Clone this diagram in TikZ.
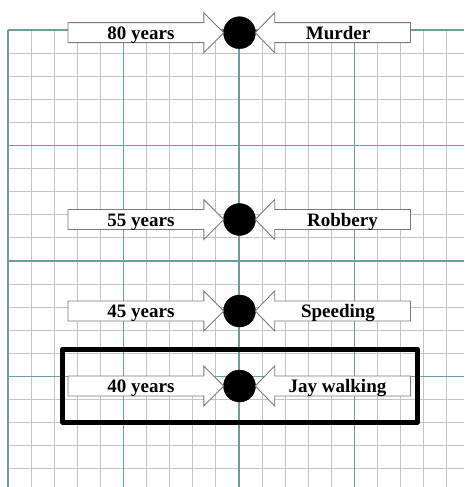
\documentclass[tikz,border=0pt]{standalone}
\usepackage{fontspec}
\setmainfont{Liberation Serif}
\usetikzlibrary{calc}
\definecolor{minorgrid}{HTML}{C4C4C4}
\definecolor{majorgrid}{HTML}{6F9C9C}
\definecolor{arrowline}{HTML}{7A7A7A}
\tikzset{
  minorline/.style={draw=minorgrid, line width=1.1pt},
  majorline/.style={draw=majorgrid, line width=1.1pt},
  dot/.style={circle, fill=black, draw=black, line width=0.4pt, minimum width=32pt, minimum height=31pt, inner sep=0pt},
  blockarrow/.style={draw=arrowline, fill=white, line width=0.9pt, line join=miter},
  label/.style={font=\fontsize{19}{22}\selectfont\bfseries, inner sep=0pt, anchor=base},
  framebox/.style={draw=black, line width=5pt, line join=round}
}
\begin{document}
\begin{tikzpicture}[x=1pt,y=-1pt]
\useasboundingbox (0,0) rectangle (464,487);
\fill[white] (0,0) rectangle (464,487);
\begin{scope}
\clip (0,0) rectangle (464,487);
% grid
\foreach \k in {0,...,19}{
  \pgfmathsetmacro{\gx}{8+23.1*\k}
  \pgfmathsetmacro{\gy}{30+23.1*\k}
  \pgfmathtruncatemacro{\m}{mod(\k,5)}
  \ifnum\m=0\relax
  \else
    \draw[minorline] (\gx,30) -- (\gx,487);
    \draw[minorline] (8,\gy) -- (464,\gy);
  \fi
}
\foreach \k in {0,5,10,15}{
  \pgfmathsetmacro{\gx}{8+23.1*\k}
  \pgfmathsetmacro{\gy}{30+23.1*\k}
  \draw[majorline] (\gx,30) -- (\gx,487);
  \draw[majorline] (8,\gy) -- (464,\gy);
}
\end{scope}
% highlight frame
\draw[framebox] (62.5,349) rectangle (417.5,422);
% rows
\foreach \n/\cy/\lt/\rt/\rx in {1/32.7/80 years/Murder/338, 2/219.5/55 years/Robbery/342.5, 3/311/45 years/Speeding/338, 4/386/40 years/Jay walking/337.5}{
  \node[dot] (c\n) at (239.5,\cy) {};
  \coordinate (lt\n) at ($(c\n.west)+(0.5,0)$);
  \coordinate (rt\n) at ($(c\n.east)+(-0.5,0)$);
  \draw[blockarrow] (lt\n) -- ++(-20,-20) -- ++(0,10) -- (68,\cy-10) -- (68,\cy+10) -- ($(lt\n)+(-20,10)$) -- ++(0,10) -- cycle;
  \draw[blockarrow] (rt\n) -- ++(19.5,-20) -- ++(0,10) -- (410.5,\cy-10) -- (410.5,\cy+10) -- ($(rt\n)+(19.5,10)$) -- ++(0,10) -- cycle;
  \node[label] (l\n) at (141,\cy+6.6) {\lt};
  \node[label] (r\n) at (\rx,\cy+6.6) {\rt};
}
\end{tikzpicture}
\end{document}
